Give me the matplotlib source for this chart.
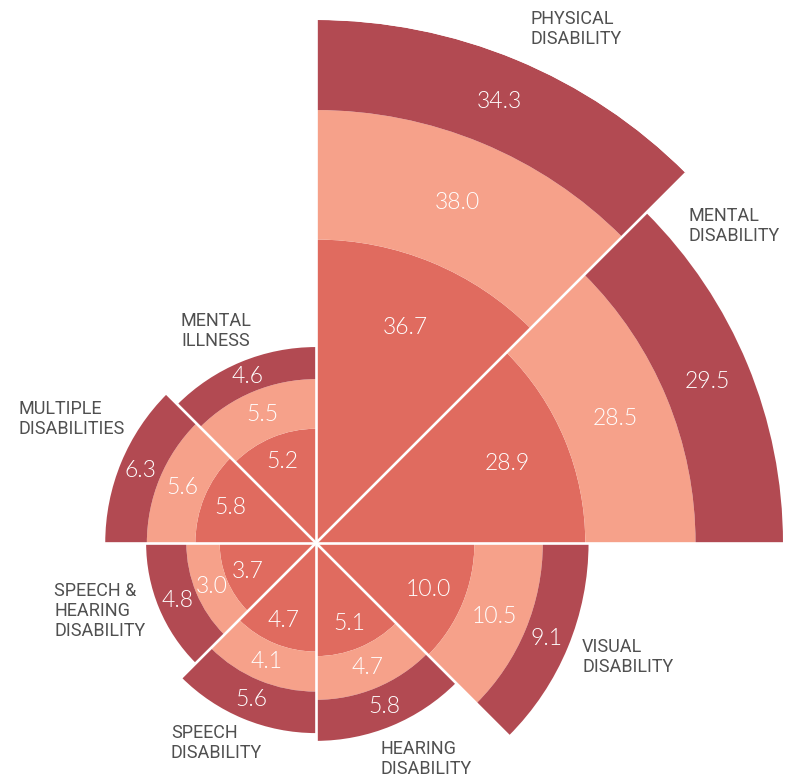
import numpy as np
import matplotlib.pyplot as plt
from matplotlib import font_manager

# disability categories, going counter-clockwise from the east axis
categories = ['MENTAL\nDISABILITY', 'PHYSICAL\nDISABILITY', 'MENTAL\nILLNESS',
              'MULTIPLE\nDISABILITIES', 'SPEECH &\nHEARING\nDISABILITY',
              'SPEECH\nDISABILITY', 'HEARING\nDISABILITY', 'VISUAL\nDISABILITY']
inner = [28.9, 36.7, 5.2, 5.8, 3.7, 4.7, 5.1, 10.0]
middle = [28.5, 38.0, 5.5, 5.6, 3.0, 4.1, 4.7, 10.5]
outer = [29.5, 34.3, 4.6, 6.3, 4.8, 5.6, 5.8, 9.1]

COLORS = ['#E06B5F', '#F6A18A', '#B24A52']
TXT_COL = '#505050'

W, H = 790, 780
CX, CY = 316, 543  # centre of the rose in pixels
R_PX = 523


def pick_font(family, weight):
    # exact file for a family/weight, so matplotlib doesn't fall to a hairline cut
    for f in font_manager.fontManager.ttflist:
        if f.name == family and f.weight == weight and f.style == 'normal':
            return font_manager.FontProperties(fname=f.fname)
    return font_manager.FontProperties(family=family, weight='normal')


value_fp = pick_font('Lato', 300)
value_fp.set_size(16.5)
label_fp = font_manager.FontProperties(family='Roboto', size=13)

rings = np.array([inner, middle, outer])
cum = np.cumsum(rings, axis=0)
rmax = np.sqrt(cum[-1].max())

fig = plt.figure(figsize=(W / 100, H / 100), dpi=100)
ax = fig.add_axes([(CX - R_PX) / W, (H - CY - R_PX) / H, 2 * R_PX / W, 2 * R_PX / H],
                  projection='polar')
ax.set_ylim(0, rmax)
ax.axis('off')

n = len(categories)
step = 2 * np.pi / n
theta = np.arange(n) * step + step / 2

# area-proportional rings: radius ~ sqrt of the running total
prev = np.zeros(n)
for i in range(3):
    r0 = np.sqrt(prev)
    r1 = np.sqrt(cum[i])
    ax.bar(theta, r1 - r0, bottom=r0, width=step, color=COLORS[i], linewidth=0, zorder=1)
    # inner wedge labels sit out toward the rim, the others mid-ring
    rl = 0.77 * r1 if i == 0 else (r0 + r1) / 2
    for t, r, v in zip(theta, rl, rings[i]):
        ax.text(t, r, f'{v:.1f}', ha='center', va='center', color='white',
                fontproperties=value_fp, zorder=5)
    prev = cum[i]

# white spokes between sectors
for k in range(n):
    ax.plot([k * step, k * step], [0, rmax], color='white', lw=1.9, zorder=3)

# category labels (left edge, top of first line, in pixels)
label_pos = [(688, 207), (530, 10), (181, 312), (19, 400), (54, 582),
             (171, 724), (381, 740), (582, 638)]
for name, (x, y) in zip(categories, label_pos):
    fig.text(x / W, 1 - y / H, name, ha='left', va='top', color=TXT_COL,
             fontproperties=label_fp, linespacing=1.15)

fig.savefig('out.png', dpi=100)
